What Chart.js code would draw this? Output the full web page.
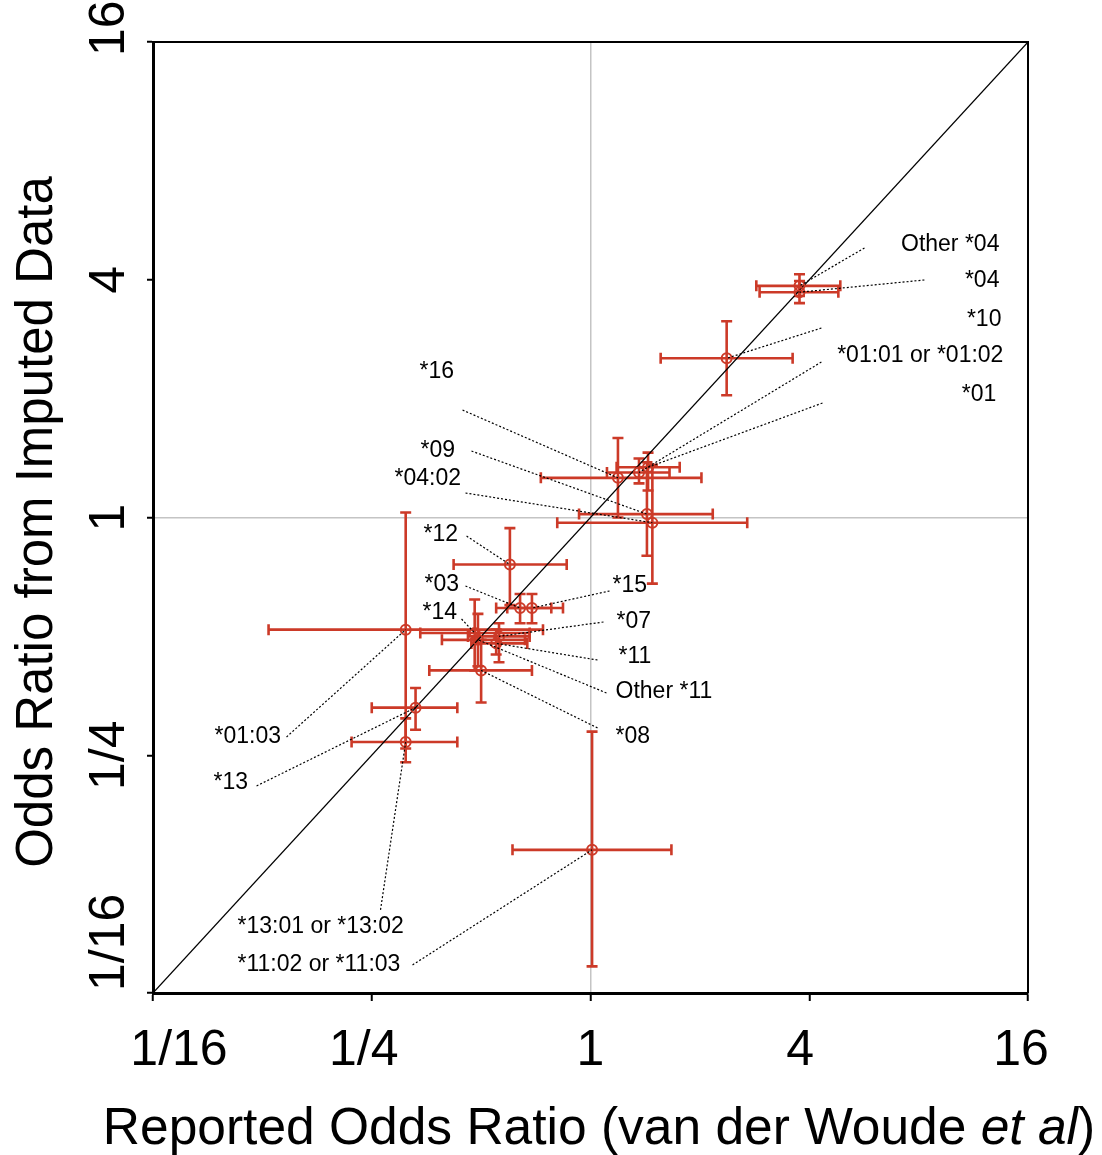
<!DOCTYPE html>
<html><head><meta charset="utf-8">
<script src="https://cdn.jsdelivr.net/npm/chart.js@4.4.0/dist/chart.umd.min.js"></script>
<style>html,body{margin:0;padding:0;background:#fff}#wrap{width:1102px;height:1155px}</style>
</head><body><div id="wrap"><canvas id="c" width="1102" height="1155"></canvas></div>
<script>
// ---- data ----
const alleles    = ["Other *04","*04","*10","*01:01 or *01:02","*01","*16","*09","*04:02","*12","*03","*15","*14","*07","*11","Other *11","*08","*01:03","*13","*13:01 or *13:02","*11:02 or *11:03"];
const reportedOR = [3.76,3.76,2.37,1.36,1.44,1.19,1.43,1.48,0.60,0.64,0.69,0.48,0.56,0.55,0.49,0.50,0.31,0.33,0.31,1.01];
const reportedLo = [2.86,2.92,1.56,1.11,1.18,0.73,0.93,0.81,0.42,0.55,0.59,0.34,0.46,0.47,0.39,0.36,0.13,0.25,0.22,0.61];
const reportedHi = [4.87,4.81,3.60,1.65,1.76,2.02,2.17,2.70,0.86,0.78,0.84,0.68,0.68,0.67,0.66,0.69,0.74,0.43,0.43,1.67];
const imputedOR  = [3.86,3.72,2.53,1.30,1.34,1.26,1.02,0.97,0.76,0.59,0.59,0.51,0.50,0.48,0.49,0.41,0.52,0.33,0.27,0.144];
const imputedLo  = [3.64,3.49,2.04,1.22,1.17,1.00,0.80,0.68,0.60,0.54,0.54,0.41,0.43,0.45,0.42,0.34,0.26,0.29,0.24,0.073];
const imputedHi  = [4.13,3.97,3.14,1.41,1.46,1.59,1.38,1.36,0.94,0.64,0.64,0.62,0.54,0.52,0.57,0.49,1.03,0.37,0.31,0.287];
const tickValues = [1/16, 1/4, 1, 4, 16];
const tickLabels = ["1/16","1/4","1","4","16"];
const xTitle = ["Reported Odds Ratio (van der Woude ", "et al", ")"];
const yTitle = "Odds Ratio from Imputed Data";

// ---- annotation layout (log2 units of the axes) ----
const labelPosX  = [3.739,3.739,3.757,3.775,3.711,-1.563,-1.554,-1.792,-1.527,-1.517,0.201,-1.536,0.238,0.256,0.229,0.229,-3.437,-3.446,-3.227,-3.227];
const labelPosY  = [2.292,1.989,1.661,1.358,1.030,1.224,0.559,0.324,-0.147,-0.568,-0.576,-0.803,-0.879,-1.173,-1.468,-1.846,-1.846,-2.233,-3.444,-3.764];
const labelAlign = ["right","right","right","right","right","left","left","left","left","left","left","left","left","left","left","left","left","left","left","left"];
const leaderX    = [2.505,3.053,2.111,2.111,2.121,-1.170,-1.088,-1.143,-1.133,-1.143,0.174,-1.179,0.119,0.064,0.146,0.064,-2.779,-3.053,-1.920,-1.627];
const leaderY    = [2.267,1.998,1.594,1.308,0.963,0.904,0.559,0.206,-0.156,-0.576,-0.618,-0.854,-0.879,-1.199,-1.476,-1.770,-1.846,-2.258,-3.301,-3.764];

const RED = 'rgb(204,58,40)';
const FONT = '"Liberation Sans", Arial, Helvetica, sans-serif';
const CAP = 5.5;

const errorBars = {
  id: 'errorBars',
  beforeDatasetsDraw(chart) {
    const {ctx, scales: {x, y}} = chart;
    ctx.save();
    ctx.strokeStyle = RED; ctx.lineWidth = 2.6;
    for (let i = 0; i < alleles.length; i++) {
      const px = x.getPixelForValue(reportedOR[i]), py = y.getPixelForValue(imputedOR[i]);
      const xl = x.getPixelForValue(reportedLo[i]), xh = x.getPixelForValue(reportedHi[i]);
      const yl = y.getPixelForValue(imputedLo[i]), yh = y.getPixelForValue(imputedHi[i]);
      ctx.beginPath();
      ctx.moveTo(xl, py); ctx.lineTo(xh, py);
      ctx.moveTo(xl, py - CAP); ctx.lineTo(xl, py + CAP);
      ctx.moveTo(xh, py - CAP); ctx.lineTo(xh, py + CAP);
      ctx.moveTo(px, yl); ctx.lineTo(px, yh);
      ctx.moveTo(px - CAP, yl); ctx.lineTo(px + CAP, yl);
      ctx.moveTo(px - CAP, yh); ctx.lineTo(px + CAP, yh);
      ctx.stroke();
    }
    ctx.restore();
  }
};

const annotations = {
  id: 'annotations',
  afterDatasetsDraw(chart) {
    const {ctx, scales: {x, y}} = chart;
    ctx.save();
    ctx.strokeStyle = '#000'; ctx.lineWidth = 1.2; ctx.setLineDash([2, 2]);
    for (let i = 0; i < alleles.length; i++) {
      ctx.beginPath();
      ctx.moveTo(x.getPixelForValue(2 ** leaderX[i]), y.getPixelForValue(2 ** leaderY[i]));
      ctx.lineTo(x.getPixelForValue(reportedOR[i]), y.getPixelForValue(imputedOR[i]));
      ctx.stroke();
    }
    ctx.setLineDash([]);
    ctx.fillStyle = '#000'; ctx.font = '23px ' + FONT; ctx.textBaseline = 'middle';
    for (let i = 0; i < alleles.length; i++) {
      ctx.textAlign = labelAlign[i];
      ctx.fillText(alleles[i], x.getPixelForValue(2 ** labelPosX[i]), y.getPixelForValue(2 ** labelPosY[i]));
    }
    ctx.restore();
  },
  afterDraw(chart) {
    const {ctx, chartArea: a, scales: {x, y}} = chart;
    ctx.save();
    // top/right frame
    ctx.strokeStyle = '#000'; ctx.lineWidth = 2;
    ctx.beginPath();
    ctx.moveTo(a.left, a.top); ctx.lineTo(a.right, a.top); ctx.lineTo(a.right, a.bottom);
    ctx.stroke();
    ctx.fillStyle = '#000';
    // x tick labels
    const xOff = [26, -8, 0, -9, -7];
    ctx.font = '50px ' + FONT; ctx.textBaseline = 'alphabetic'; ctx.textAlign = 'center';
    tickValues.forEach((v, i) => ctx.fillText(tickLabels[i], x.getPixelForValue(v) + xOff[i], 1065));
    // y tick labels (rotated)
    const yAlign = ['left', 'center', 'center', 'center', 'left'];
    const yOff = [-2, 0, 0, 0, 14];
    tickValues.forEach((v, i) => {
      ctx.save();
      ctx.translate(124, y.getPixelForValue(v) + yOff[i]);
      ctx.rotate(-Math.PI / 2);
      ctx.textAlign = yAlign[i];
      ctx.fillText(tickLabels[i], 0, 0);
      ctx.restore();
    });
    // x title with italic part
    ctx.font = '51.5px ' + FONT;
    const w0 = ctx.measureText(xTitle[0]).width;
    ctx.font = 'italic 51.5px ' + FONT;
    const w1 = ctx.measureText(xTitle[1]).width;
    ctx.font = '51.5px ' + FONT;
    const w2 = ctx.measureText(xTitle[2]).width;
    let sx = 599 - (w0 + w1 + w2) / 2;
    ctx.textAlign = 'left';
    ctx.fillText(xTitle[0], sx, 1144);
    ctx.font = 'italic 51.5px ' + FONT;
    ctx.fillText(xTitle[1], sx + w0, 1144);
    ctx.font = '51.5px ' + FONT;
    ctx.fillText(xTitle[2], sx + w0 + w1, 1144);
    // y title
    ctx.font = '51px ' + FONT;
    ctx.save();
    ctx.translate(52, 522);
    ctx.rotate(-Math.PI / 2);
    ctx.textAlign = 'center';
    ctx.fillText(yTitle, 0, 0);
    ctx.restore();
    ctx.restore();
  }
};

function axisOpts(isX) {
  return {
    type: 'logarithmic',
    min: 1/16, max: 16,
    afterBuildTicks(scale) { scale.ticks = tickValues.map(v => ({value: v})); },
    afterFit(scale) { if (isX) scale.height = 162; else scale.width = 153; },
    ticks: {display: false},
    title: {display: false},
    border: {display: true, color: '#000', width: 3},
    grid: {
      color: c => (c.tick && c.tick.value === 1) ? '#c4c4c4' : 'rgba(0,0,0,0)',
      lineWidth: 1.5,
      drawTicks: true,
      tickLength: isX ? 8 : 6,
      tickColor: '#000',
      tickWidth: 2
    }
  };
}

new Chart(document.getElementById('c'), {
  type: 'scatter',
  data: {
    datasets: [
      {
        label: 'Odds ratios',
        data: alleles.map((a, i) => ({x: reportedOR[i], y: imputedOR[i]})),
        pointStyle: 'circle', pointRadius: 5, pointBorderWidth: 2,
        borderColor: RED, backgroundColor: 'rgba(0,0,0,0)'
      },
      {
        label: 'Identity',
        data: [{x: tickValues[0], y: tickValues[0]}, {x: tickValues[4], y: tickValues[4]}],
        showLine: true, borderColor: '#000', borderWidth: 1.2, pointRadius: 0
      }
    ]
  },
  options: {
    responsive: false, animation: false, devicePixelRatio: 1,
    layout: {padding: {left: 0, top: 42, right: 74, bottom: 0}},
    plugins: {legend: {display: false}, tooltip: {enabled: false}},
    scales: {x: axisOpts(true), y: axisOpts(false)}
  },
  plugins: [errorBars, annotations]
});
</script></body></html>
